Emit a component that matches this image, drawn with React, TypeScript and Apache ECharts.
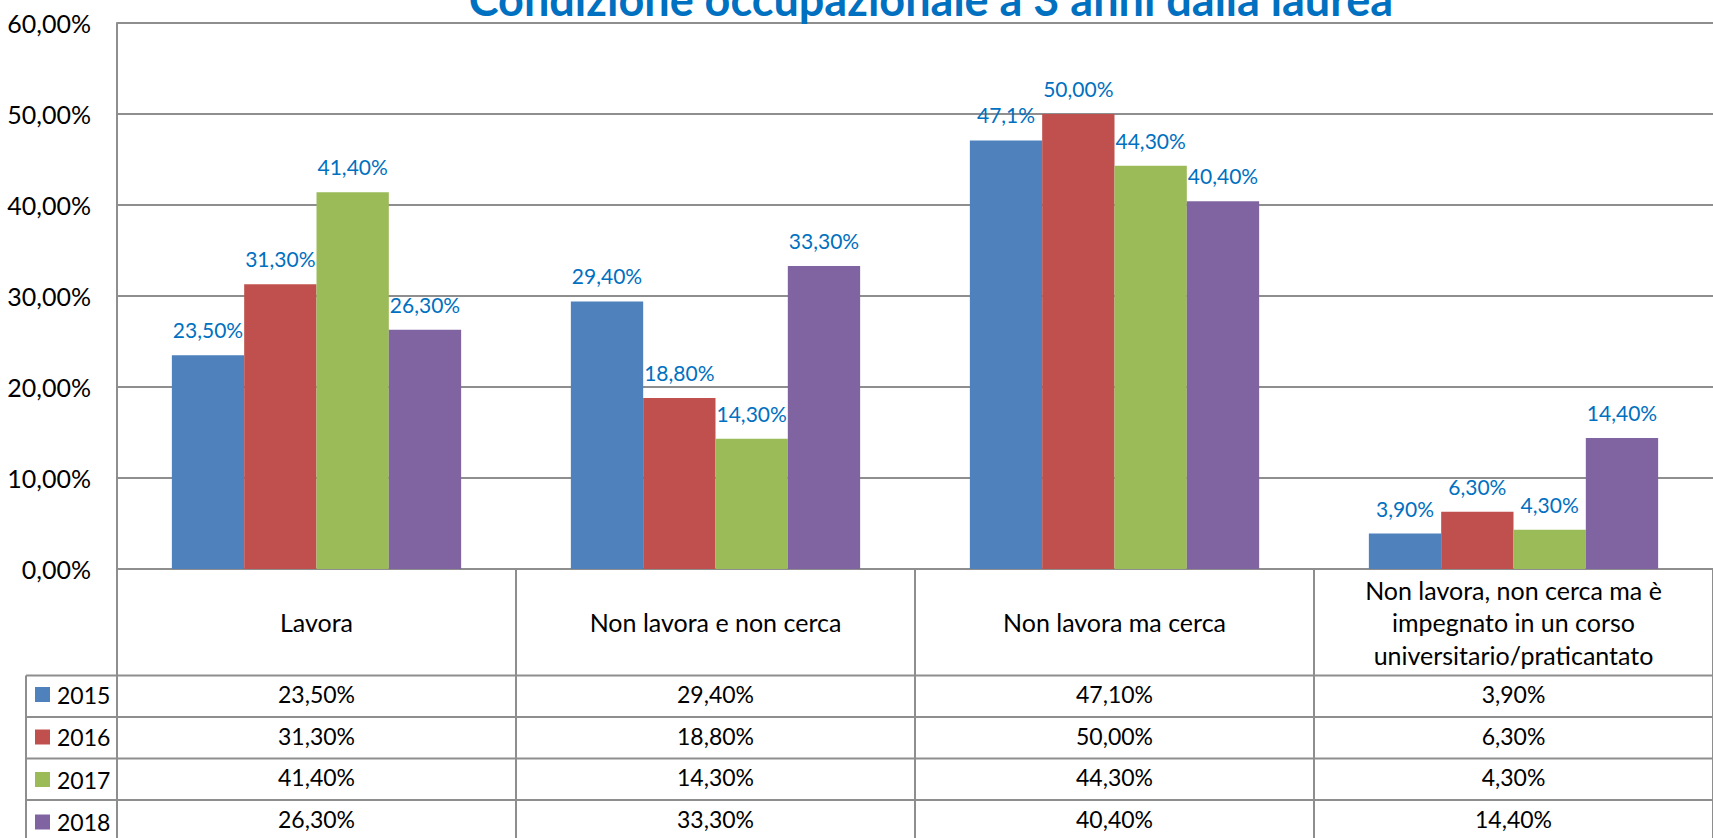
import React, { useEffect, useRef } from 'react';
import * as echarts from 'echarts';

const chartTitle = 'Condizione occupazionale a 3 anni dalla laurea';
const categories = [
  'Lavora',
  'Non lavora e non cerca',
  'Non lavora ma cerca',
  'Non lavora, non cerca ma è\nimpegnato in un corso\nuniversitario/praticantato',
];
const years = ['2015', '2016', '2017', '2018'];
const values2015 = [23.5, 29.4, 47.1, 3.9];
const values2016 = [31.3, 18.8, 50.0, 6.3];
const values2017 = [41.4, 14.3, 44.3, 4.3];
const values2018 = [26.3, 33.3, 40.4, 14.4];
// the chart shows one data label written differently from the table
const labelOverrides2015 = [null, null, '47,1%', null];
const yMin = 0;
const yMax = 60;
const yInterval = 10;

const seriesValues = [values2015, values2016, values2017, values2018];
const seriesLabelOverrides = [labelOverrides2015, [null, null, null, null], [null, null, null, null], [null, null, null, null]];
const colors = ['#4F81BD', '#C0504D', '#9BBB59', '#8064A2'];

const FONT = 'Lato, "Noto Sans", sans-serif';
const GRID_COLOR = '#8e8e8e';
const W = 1713;
const H = 838;

const fmt = (v: number) => v.toFixed(2).replace('.', ',') + '%';

export default function App() {
  const ref = useRef<HTMLDivElement>(null);
  useEffect(() => {
    if (!ref.current) return;
    const chart = echarts.init(ref.current, undefined, { renderer: 'svg' });
    const gridLeft = 117;
    const gridTop = 23;
    const zeroY = 569;
    const gridRight = -15;
    const rowLines = [675.5, 717, 758.5, 800, 841.5];

    const option: any = {
      animation: false,
      backgroundColor: '#ffffff',
      grid: { left: gridLeft, top: gridTop, right: gridRight, bottom: H - zeroY, containLabel: false },
      legend: {
        orient: 'vertical',
        left: 35,
        top: 683,
        padding: 0,
        itemWidth: 15,
        itemHeight: 15,
        itemGap: 19.5,
        icon: 'rect',
        selectedMode: false,
        data: years,
        textStyle: { fontFamily: FONT, fontSize: 23, color: '#000', lineHeight: 22, padding: [0, 0, 0, 2] },
      },
      xAxis: {
        type: 'category',
        data: categories,
        axisLine: { show: true, lineStyle: { color: GRID_COLOR, width: 2 } },
        axisTick: { show: true, length: H - zeroY + 10, lineStyle: { color: GRID_COLOR, width: 2 } },
        axisLabel: {
          interval: 0,
          margin: 53,
          verticalAlign: 'middle',
          fontFamily: FONT,
          fontSize: 25,
          lineHeight: 32.5,
          color: '#000',
        },
      },
      yAxis: {
        type: 'value',
        min: yMin,
        max: yMax,
        interval: yInterval,
        axisLine: { show: true, lineStyle: { color: GRID_COLOR, width: 2 } },
        axisTick: { show: false },
        splitLine: { show: true, lineStyle: { color: GRID_COLOR, width: 2 } },
        axisLabel: {
          margin: 26,
          fontFamily: FONT,
          fontSize: 25,
          color: '#000',
          formatter: (v: number) => fmt(v),
        },
      },
      series: years.map((y, si) => ({
        name: y,
        type: 'bar',
        data: seriesValues[si],
        barGap: '0%',
        barCategoryGap: '27.5%',
        itemStyle: { color: colors[si] },
        label: {
          show: true,
          position: 'top',
          distance: 15,
          fontFamily: FONT,
          fontSize: 21,
          color: '#0070C0',
          formatter: (p: any) => seriesLabelOverrides[si][p.dataIndex] || fmt(p.value),
        },
      })),
    };
    chart.setOption(option);

    const graphics: any[] = [];
    // title (cropped at the top edge, as in the reference)
    graphics.push({
      type: 'text',
      x: 931,
      y: -1,
      z: 100,
      style: {
        text: chartTitle,
        font: 'bold 45px Lato, "Noto Sans", sans-serif',
        fill: '#0070C0',
        align: 'center',
        verticalAlign: 'middle',
      },
    });
    // table horizontal lines
    rowLines.forEach((y) => {
      graphics.push({
        type: 'line',
        shape: { x1: 26, y1: y, x2: W, y2: y },
        style: { stroke: GRID_COLOR, lineWidth: 2 },
      });
    });
    // legend column left border
    graphics.push({
      type: 'line',
      shape: { x1: 26, y1: rowLines[0], x2: 26, y2: H },
      style: { stroke: GRID_COLOR, lineWidth: 2 },
    });
    // table values
    categories.forEach((c, ci) => {
      const cx = chart.convertToPixel({ xAxisIndex: 0 }, ci) as number;
      seriesValues.forEach((vals, si) => {
        const cy = (rowLines[si] + rowLines[si + 1]) / 2 - 2;
        graphics.push({
          type: 'text',
          x: cx,
          y: cy,
          style: {
            text: fmt(vals[ci]),
            font: '23px Lato, "Noto Sans", sans-serif',
            fill: '#000',
            align: 'center',
            verticalAlign: 'middle',
          },
        });
      });
    });
    chart.setOption({ graphic: graphics });

    return () => chart.dispose();
  }, []);
  return <div ref={ref} style={{ position: 'absolute', left: 0, top: 0, width: W, height: H, background: '#fff' }} />;
}
